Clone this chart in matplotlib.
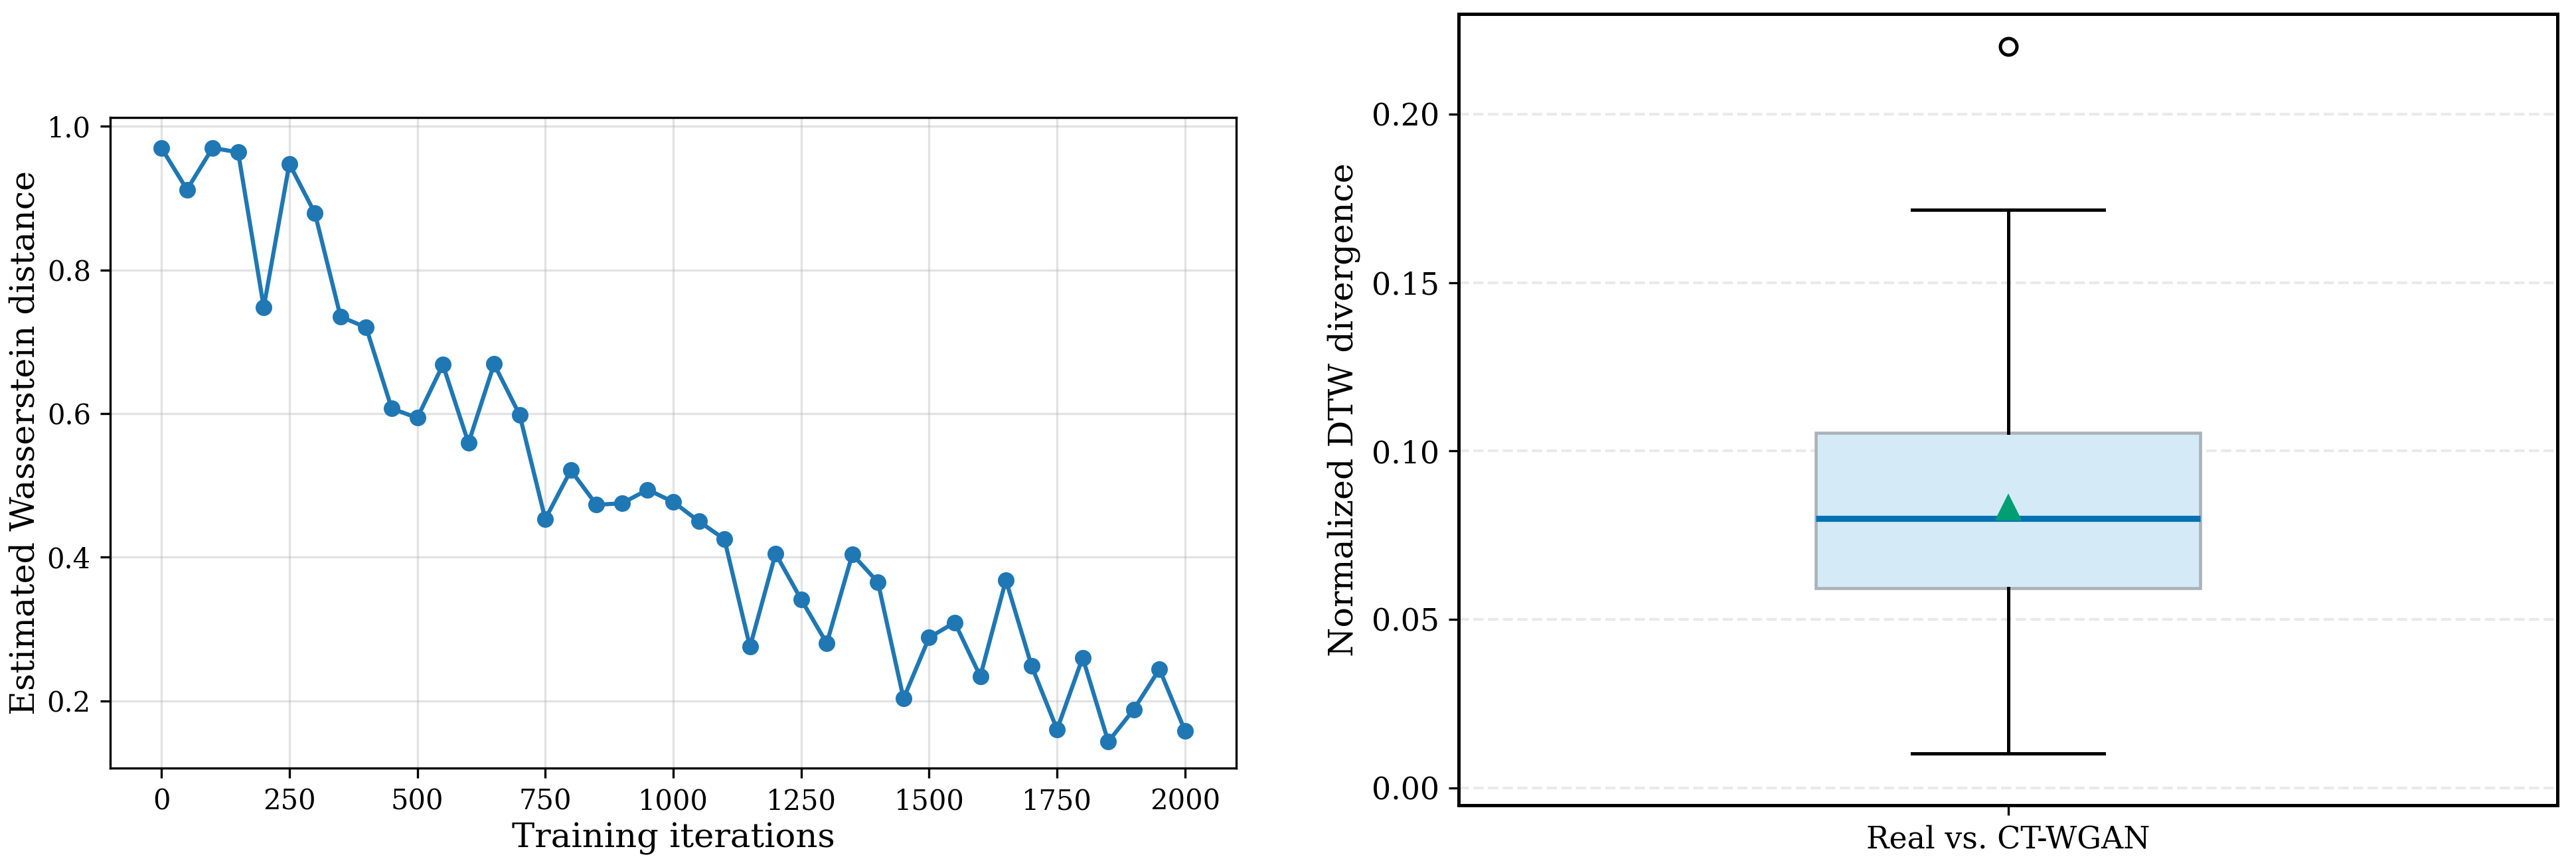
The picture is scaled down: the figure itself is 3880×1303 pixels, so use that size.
import numpy as np
import matplotlib
matplotlib.use("Agg")
import matplotlib.pyplot as plt

plt.rcParams["font.family"] = ["DejaVu Serif"]

# critic estimate of the Wasserstein distance during training
iters = [0, 50, 100, 150, 200, 250, 300, 350, 400, 450, 500, 550, 600, 650, 700,
         750, 800, 850, 900, 950, 1000, 1050, 1100, 1150, 1200, 1250, 1300, 1350,
         1400, 1450, 1500, 1550, 1600, 1650, 1700, 1750, 1800, 1850, 1900, 1950, 2000]
wdist = [0.970, 0.912, 0.970, 0.964, 0.748, 0.948, 0.879, 0.735, 0.720, 0.607,
         0.594, 0.668, 0.559, 0.669, 0.598, 0.453, 0.521, 0.473, 0.475, 0.494,
         0.477, 0.450, 0.425, 0.275, 0.405, 0.341, 0.280, 0.404, 0.365, 0.203,
         0.288, 0.309, 0.234, 0.368, 0.249, 0.160, 0.260, 0.143, 0.188, 0.244, 0.158]

# box summary of normalized DTW divergence
box_label = "Real vs. CT-WGAN"
dtw_stats = dict(whislo=0.0102, q1=0.0594, med=0.0799, q3=0.1055,
                 whishi=0.1716, mean=0.0832, fliers=[0.220])

W, H = 3880, 1303
fig = plt.figure(figsize=(W/300, H/300), dpi=300)

# ---- left: training curve
ax = fig.add_axes([166/W, 1 - 1157/H, 1696/W, 980/H])
ax.plot(iters, wdist, "-o", color="#1f77b4", lw=1.5, ms=5)
ax.set_xlim(-100, 2100)
ax.set_ylim(0.1062, 1.0124)
ax.grid(True, color="#b0b0b0", alpha=0.35, lw=0.8)
ax.set_xlabel("Training iterations", fontsize=12.3, labelpad=2.5)
ax.set_ylabel("Estimated Wasserstein distance", fontsize=12.2, labelpad=2)
ax.tick_params(labelsize=10)

# ---- right: DTW boxplot
bx = fig.add_axes([2197/W, 1 - 1213/H, 1655/W, 1192/H])
st = dict(dtw_stats, label=box_label)
bx.bxp([st], positions=[1], widths=0.35, showmeans=True, patch_artist=True,
       boxprops=dict(facecolor="#d4eaf7", edgecolor="#aab2b8", lw=1.1),
       medianprops=dict(color="#0072B2", lw=2.2),
       meanprops=dict(marker="^", markerfacecolor="#009E73",
                      markeredgecolor="#009E73", markersize=8),
       whiskerprops=dict(color="black", lw=1.2),
       capprops=dict(color="black", lw=1.2),
       flierprops=dict(marker="o", markerfacecolor="none",
                       markeredgecolor="black", markersize=6, mew=1.2))
bx.set_xlim(0.5, 1.5)
bx.set_ylim(-0.0051, 0.2297)
bx.yaxis.grid(True, ls="--", color="#dddddd", alpha=0.6, lw=1.0)
bx.set_axisbelow(True)
for s in bx.spines.values():
    s.set_linewidth(1.2)
bx.set_ylabel("Normalized DTW divergence", fontsize=12.2)
bx.tick_params(labelsize=11)

fig.savefig("out.png", dpi=300)
